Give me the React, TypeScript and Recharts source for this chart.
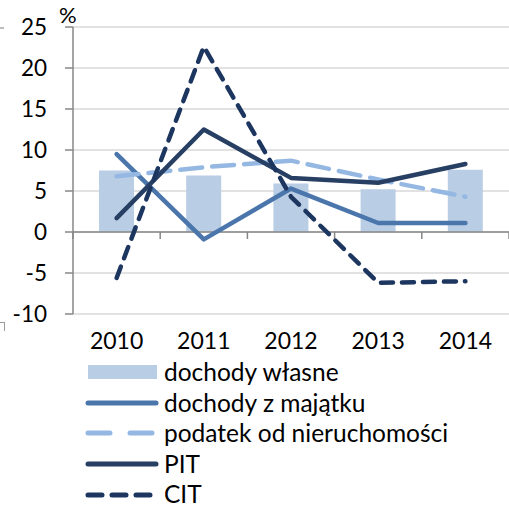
import React from 'react';
import {
  ComposedChart,
  Bar,
  Line,
  XAxis,
  YAxis,
  CartesianGrid,
  ReferenceLine,
  Legend,
} from 'recharts';

const years = ['2010', '2011', '2012', '2013', '2014'];
const dochodyWlasne = [7.5, 6.9, 5.9, 5.2, 7.6];
const dochodyZMajatku = [9.5, -0.9, 5.3, 1.1, 1.1];
const podatekOdNieruchomosci = [6.8, 7.9, 8.7, 6.4, 4.3];
const pit = [1.7, 12.5, 6.6, 6.0, 8.3];
const cit = [-5.6, 22.6, 4.3, -6.2, -6.0];
const yTicks = [-10, -5, 0, 5, 10, 15, 20, 25];

const FONT = 'Lato, "Open Sans", sans-serif';

const chartData = years.map((year, i) => ({
  year,
  wlasne: dochodyWlasne[i],
  majatek: dochodyZMajatku[i],
  nieruch: podatekOdNieruchomosci[i],
  pit: pit[i],
  cit: cit[i],
}));

const LEGEND_ITEMS = [
  { label: 'dochody własne', color: '#b9cde5', kind: 'bar', dash: '' },
  { label: 'dochody z majątku', color: '#4a76ac', kind: 'line', dash: '' },
  { label: 'podatek od nieruchomości', color: '#95b8e3', kind: 'line', dash: '22 20' },
  { label: 'PIT', color: '#263f63', kind: 'line', dash: '' },
  { label: 'CIT', color: '#1c3660', kind: 'line', dash: '14 10' },
];

function LegendBox() {
  return (
    <div style={{ fontFamily: FONT, fontSize: 24.5, color: '#000', lineHeight: '30.6px' }}>
      {LEGEND_ITEMS.map((item) => (
        <div key={item.label} style={{ display: 'flex', alignItems: 'center', height: 30.6 }}>
          <svg width={76} height={20} style={{ marginRight: 4 }}>
            {item.kind === 'bar' ? (
              <rect x={4} y={3} width={69} height={14} fill={item.color} />
            ) : (
              <line
                x1={4}
                y1={10}
                x2={72}
                y2={10}
                stroke={item.color}
                strokeWidth={5}
                strokeLinecap="round"
                strokeDasharray={item.dash || undefined}
              />
            )}
          </svg>
          <span>{item.label}</span>
        </div>
      ))}
    </div>
  );
}

// zero line with small tick marks on the category boundaries
function ZeroAxis(props: any) {
  const { x1, y1, x2, y2 } = props;
  const step = (x2 - x1) / years.length;
  return (
    <g>
      <line x1={x1} y1={y1} x2={x2} y2={y2} stroke="#878787" strokeWidth={1.5} />
      {Array.from({ length: years.length + 1 }, (_, i) => (
        <line
          key={i}
          x1={x1 + step * i}
          y1={y1}
          x2={x1 + step * i}
          y2={y1 + 7}
          stroke="#878787"
          strokeWidth={1.5}
        />
      ))}
    </g>
  );
}

export default function App() {
  return (
    <div style={{ position: 'absolute', left: 0, top: 0, width: 509, height: 509, background: '#fff' }}>
      <div
        style={{
          position: 'absolute',
          left: 59,
          top: 1,
          fontFamily: FONT,
          fontSize: 22,
          color: '#000',
        }}
      >
        %
      </div>
      {/* frame remnants on the left edge */}
      <div style={{ position: 'absolute', left: 0, top: 27, width: 4, height: 1.5, background: '#bdbdbd' }} />
      <div
        style={{
          position: 'absolute',
          left: 0,
          top: 322,
          width: 4,
          height: 8,
          borderTop: '1.5px solid #9a9a9a',
          borderRight: '1.5px solid #9a9a9a',
        }}
      />
      <ComposedChart
        width={509}
        height={509}
        data={chartData}
        margin={{ top: 27, right: 0, left: 0, bottom: 155 }}
      >
        <CartesianGrid vertical={false} stroke="#d9d9d9" strokeWidth={1.5} />
        <XAxis
          dataKey="year"
          height={40}
          axisLine={false}
          tickLine={false}
          tickSize={0}
          tickMargin={19}
          tick={{ fill: '#000', fontSize: 23, fontFamily: FONT }}
          interval={0}
        />
        <YAxis
          width={73}
          domain={[-10, 25]}
          ticks={yTicks}
          interval={0}
          axisLine={{ stroke: '#878787', strokeWidth: 1.5 }}
          tickLine={{ stroke: '#878787', strokeWidth: 1.5 }}
          tickSize={8}
          tickMargin={18}
          tick={{ fill: '#000', fontSize: 22.5, fontFamily: FONT }}
        />
        <Bar dataKey="wlasne" fill="#b9cde5" barSize={35} isAnimationActive={false} />
        <ReferenceLine y={0} shape={<ZeroAxis />} />
        <Line
          dataKey="majatek"
          stroke="#4a76ac"
          strokeWidth={4.5}
          dot={false}
          activeDot={false}
          strokeLinecap="round"
          strokeLinejoin="round"
          isAnimationActive={false}
        />
        <Line
          dataKey="nieruch"
          stroke="#95b8e3"
          strokeWidth={4.5}
          strokeDasharray="22 10"
          dot={false}
          activeDot={false}
          strokeLinecap="round"
          isAnimationActive={false}
        />
        <Line
          dataKey="pit"
          stroke="#263f63"
          strokeWidth={4.5}
          dot={false}
          activeDot={false}
          strokeLinecap="round"
          strokeLinejoin="round"
          isAnimationActive={false}
        />
        <Line
          dataKey="cit"
          stroke="#1c3660"
          strokeWidth={4.5}
          strokeDasharray="12 9"
          dot={false}
          activeDot={false}
          strokeLinecap="round"
          isAnimationActive={false}
        />
        <Legend
          layout="vertical"
          align="center"
          verticalAlign="middle"
          wrapperStyle={{ left: 84, top: 357, width: 425 }}
          content={() => <LegendBox />}
        />
      </ComposedChart>
    </div>
  );
}
